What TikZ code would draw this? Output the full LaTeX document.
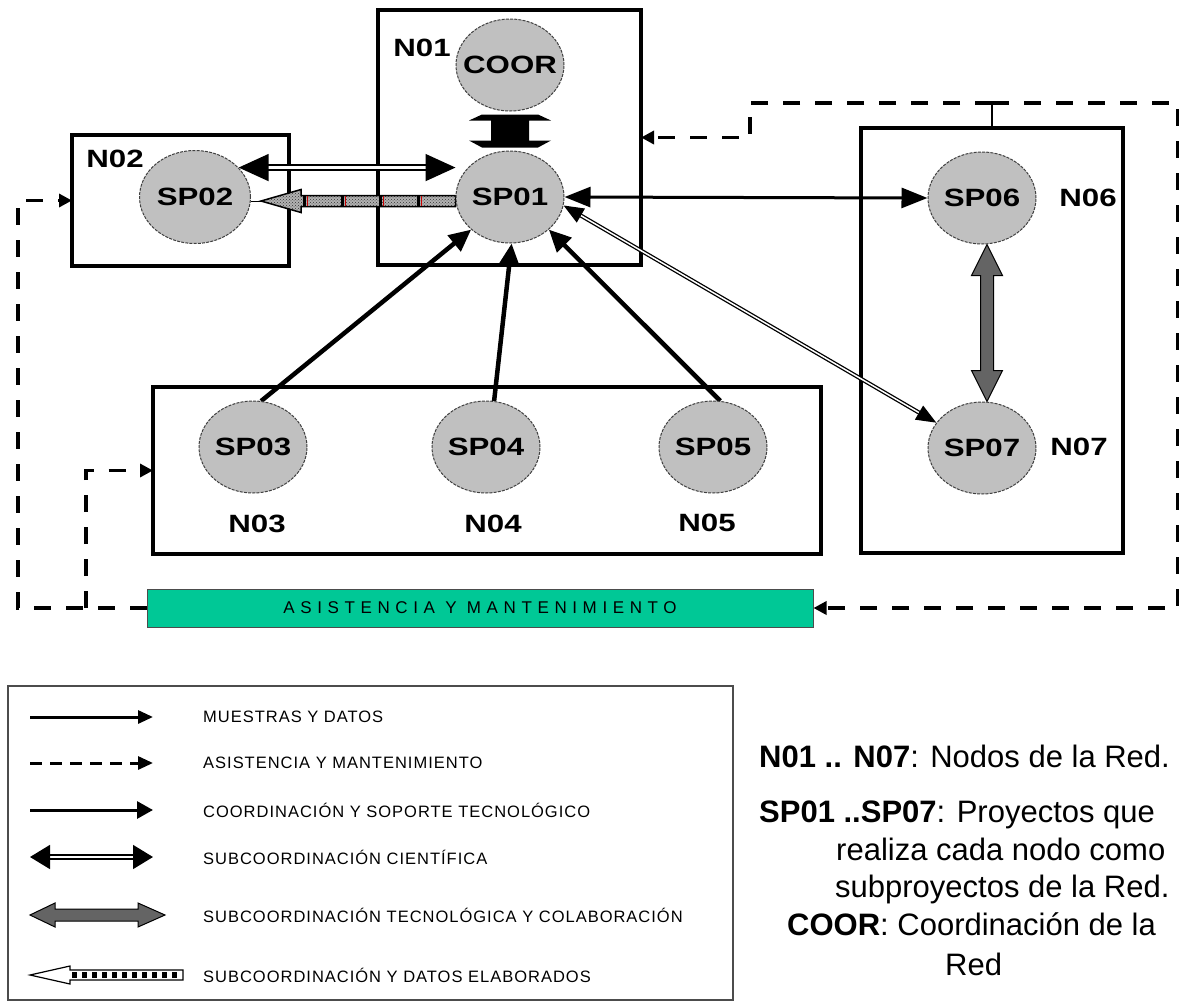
\documentclass[tikz,border=0pt]{standalone}
\usepackage{fontspec}
\setmainfont{Liberation Sans}
\newfontfamily\labfont[FakeStretch=1.25]{Liberation Sans}
\newfontfamily\legfont[LetterSpace=6]{Liberation Sans}
\newfontfamily\barfont[LetterSpace=33]{Liberation Sans}
\usetikzlibrary{arrows.meta,shapes.geometric,calc,patterns}
\definecolor{barteal}{RGB}{0,200,150}
\definecolor{projgray}{RGB}{192,192,192}
\definecolor{techgray}{RGB}{100,100,100}
\pgfdeclarelayer{boxes}
\pgfdeclarelayer{links}
\pgfsetlayers{boxes,links,main}
\tikzset{
  proj/.style={ellipse, draw=black!75, line width=1pt, dash pattern=on 3pt off 1.2pt, fill=projgray,
    minimum width=108pt, minimum height=92pt, inner sep=0pt, font=\labfont\bfseries\fontsize{25}{25}\selectfont},
  nlabel/.style={font=\labfont\bfseries\fontsize{25}{25}\selectfont, inner sep=0pt},
  netbox/.style={draw, line width=3.5pt, inner sep=0pt, outer sep=0pt},
  dashlink/.style={line width=3.5pt, dash pattern=on 17pt off 15pt, -{Triangle[length=13pt,width=13pt]}},
  datalink/.style={line width=4.5pt, -{Triangle[length=22pt,width=20pt]}},
  coordlink/.style={line width=3pt, {Triangle[length=26pt,width=20pt]}-{Triangle[length=26pt,width=20pt]}},
  scilink/.style={line width=1.6pt, double=white, double distance=3pt, {Triangle[length=30pt,width=27pt]}-{Triangle[length=30pt,width=27pt]}},
  thinsci/.style={line width=1.3pt, double=white, double distance=1.5pt, {Triangle[length=20pt,width=16pt]}-{Triangle[length=20pt,width=16pt]}},
  legtext/.style={anchor=west, inner sep=0pt, font=\legfont\fontsize{16.5}{16.5}\selectfont},
  keytext/.style={anchor=base west, inner sep=0pt, font=\fontsize{31}{31}\selectfont},
}
\begin{document}
\begin{tikzpicture}[x=1pt,y=-1pt]
\useasboundingbox (0,0) rectangle (1179,1005);
\begin{pgfonlayer}{boxes}
\fill[white] (0,0) rectangle (1179,1005);
% network boxes
\node[netbox, minimum width=263pt, minimum height=255pt] (n01box) at (509.5,137.5) {};
\node[netbox, minimum width=217pt, minimum height=131pt] (n02box) at (180.5,200.5) {};
\node[netbox, minimum width=668pt, minimum height=167pt] (n35box) at (487,470.5) {};
\node[netbox, minimum width=262pt, minimum height=425pt] (n67box) at (992,340.5) {};
\end{pgfonlayer}

% project nodes
\node[proj] (coor) at (510,65) {\makebox[0pt]{COOR}};
\node[proj] (sp01) at (510,197) {\makebox[0pt]{SP01}};
\node[proj, minimum width=111pt, minimum height=93pt] (sp02) at (195,197) {\makebox[0pt]{SP02}};
\node[proj] (sp03) at (253,447) {\makebox[0pt]{SP03}};
\node[proj] (sp04) at (486,447) {\makebox[0pt]{SP04}};
\node[proj] (sp05) at (713,447) {\makebox[0pt]{SP05}};
\node[proj] (sp06) at (982,198) {\makebox[0pt]{SP06}};
\node[proj] (sp07) at (982,448) {\makebox[0pt]{SP07}};

% node labels
\node[nlabel] (l01) at (422,48) {N01};
\node[nlabel] (l02) at (115,159) {N02};
\node[nlabel] (l03) at (257,524) {N03};
\node[nlabel] (l04) at (493,524) {N04};
\node[nlabel] (l05) at (707,523) {N05};
\node[nlabel] (l06) at (1088,198) {N06};
\node[nlabel] (l07) at (1079,447) {N07};

% assistance bar
\node[draw=black!70, line width=1pt, fill=barteal, minimum width=666pt, minimum height=38pt, inner sep=0pt,
  font=\barfont\fontsize{17}{17}\selectfont] (bar) at (480,608) {ASISTENCIA Y MANTENIMIENTO};

\coordinate (lcol) at (18,608);
\coordinate (icol) at (86,608);
\coordinate (rcol) at (1178,608);
\coordinate (jn) at (992,103);
\coordinate (tcol) at (750,137.5);

\begin{pgfonlayer}{links}
% assistance (dashed)
\draw[dashlink] (bar.west) -- (lcol) |- (n02box.west);
\draw[dashlink] (icol) |- (n35box.west);
\draw[line width=1.5pt] (n67box.north) -- (jn);
\draw[dashlink] (jn) -| (rcol) -- (bar.east);
\draw[dashlink] (jn) -| (tcol) -- (n01box.east);

% samples and data
\draw[datalink] (sp03.80) -- (sp01.220);
\draw[datalink] (sp04.80) -- (sp01.-88);
\draw[datalink] (sp05.81) -- (sp01.-40);

% coordination
\draw[coordlink] (sp01.east) -- (sp06.west);

% scientific subcoordination
\draw[thinsci] (sp01.-9) -- (sp07.151);
\draw[scilink] (sp02.34) -- (sp02.34 -| sp01.west);

% COOR <-> SP01
\coordinate (ca) at (coor.south);
\coordinate (cb) at (sp01.north);
\fill[black] ($(ca)+(-28,3)$) -- ($(ca)+(28,3)$) -- ($(ca)+(41,9)$) -- ($(ca)+(19,9)$) -- ($(cb)+(19,-10)$)
  -- ($(cb)+(41,-10)$) -- ($(cb)+(28,-3)$) -- ($(cb)+(-28,-3)$) -- ($(cb)+(-41,-10)$) -- ($(cb)+(-19,-10)$)
  -- ($(ca)+(-19,9)$) -- ($(ca)+(-41,9)$) -- cycle;

% technological subcoordination SP06 <-> SP07
\coordinate (ga) at ([xshift=5pt]sp06.south);
\coordinate (gb) at ([xshift=5pt]sp07.north);
\filldraw[fill=techgray, draw=black, line width=1pt] (ga) -- ($(ga)+(15.5,31)$) -- ($(ga)+(6.5,31)$)
  -- ($(gb)+(6.5,-31)$) -- ($(gb)+(15.5,-31)$) -- (gb) -- ($(gb)+(-15.5,-31)$) -- ($(gb)+(-6.5,-31)$)
  -- ($(ga)+(-6.5,31)$) -- ($(ga)+(-15.5,31)$) -- cycle;

% elaborated data SP01 -> SP02
\coordinate (h1) at ([yshift=-4pt]sp01.west);
\coordinate (h2) at ([yshift=-4pt]sp02.east);
\draw[line width=1pt] ($(h2)+(10,0)$) -- (h2);
\path[fill=gray!60, postaction={pattern=crosshatch dots, pattern color=black!80}, postaction={draw, line width=1.5pt}]
  ($(h1)+(0,-5.5)$) -- ($(h2)+(50,-5.5)$) -- ($(h2)+(50,-11.5)$) -- ($(h2)+(10,0)$) -- ($(h2)+(50,11.5)$)
  -- ($(h2)+(50,5.5)$) -- ($(h1)+(0,5.5)$) -- cycle;
\foreach \t in {53,91,129,167} {
  \draw[line width=3pt] ($(h2)+(\t,-5)$) -- ($(h2)+(\t,5)$);
  \draw[red!80!black, line width=1.5pt] ($(h2)+({\t+3.5},-5)$) -- ($(h2)+({\t+3.5},5)$);
}
\end{pgfonlayer}

% legend
\node[draw=black!70, line width=1.5pt, minimum width=725pt, minimum height=314pt, inner sep=0pt] (legbox) at (370.5,843) {};
\coordinate (k1a) at (30,717);  \coordinate (k1b) at (153,717);
\coordinate (k2a) at (30,763);  \coordinate (k2b) at (153,763);
\coordinate (k3a) at (30,810);  \coordinate (k3b) at (153,810);
\coordinate (k4a) at (30,857);  \coordinate (k4b) at (153,857);
\coordinate (k5a) at (30,915);  \coordinate (k5b) at (165,915);
\coordinate (k6a) at (30,975);  \coordinate (k6b) at (183,975);
\draw[line width=3pt, -{Triangle[length=15pt,width=13pt]}] (k1a) -- (k1b);
\draw[line width=3pt, dash pattern=on 12pt off 8pt, -{Triangle[length=15pt,width=13pt]}] (k2a) -- (k2b);
\draw[line width=3pt, -{Triangle[length=16pt,width=17pt]}] (k3a) -- (k3b);
\draw[line width=1.5pt, double=white, double distance=2.5pt, {Triangle[length=20pt,width=24pt]}-{Triangle[length=20pt,width=24pt]}] (k4a) -- (k4b);
\filldraw[fill=techgray, draw=black, line width=1pt] (k5a) -- ($(k5a)+(25,-12)$) -- ($(k5a)+(25,-6)$)
  -- ($(k5b)+(-27,-6)$) -- ($(k5b)+(-27,-12)$) -- (k5b) -- ($(k5b)+(-27,12)$) -- ($(k5b)+(-27,6)$)
  -- ($(k5a)+(25,6)$) -- ($(k5a)+(25,12)$) -- cycle;
\filldraw[fill=white, draw=black, line width=1.2pt] (k6a) -- ($(k6a)+(40,-9)$) -- ($(k6a)+(40,-5)$)
  -- ($(k6b)+(0,-5)$) -- ($(k6b)+(0,5)$) -- ($(k6a)+(40,5)$) -- ($(k6a)+(40,9)$) -- cycle;
\draw[line width=6pt, dash pattern=on 5pt off 5pt] ($(k6a)+(42,0)$) -- ($(k6b)+(-2,0)$);

\node[legtext] (t1) at (203,717) {MUESTRAS Y DATOS};
\node[legtext] (t2) at (203,763) {ASISTENCIA Y MANTENIMIENTO};
\node[legtext] (t3) at (203,810) {COORDINACIÓN Y SOPORTE TECNOLÓGICO};
\node[legtext] (t4) at (203,857) {SUBCOORDINACIÓN CIENTÍFICA};
\node[legtext] (t5) at (203,915) {SUBCOORDINACIÓN TECNOLÓGICA Y COLABORACIÓN};
\node[legtext] (t6) at (203,975) {SUBCOORDINACIÓN Y DATOS ELABORADOS};

% key text
\node[keytext] (key1) at (759,767) {\textbf{N01 .. N07}: Nodos de la Red.};
\node[keytext] (key2) at (759,822) {\textbf{SP01 ..SP07}: Proyectos que};
\node[keytext] (key3) at (836,860) {realiza cada nodo como};
\node[keytext] (key4) at (835,897) {subproyectos de la Red.};
\node[keytext] (key5) at (787,935) {\textbf{COOR}: Coordinación de la};
\node[keytext] (key6) at (945,975) {Red};
\end{tikzpicture}
\end{document}
